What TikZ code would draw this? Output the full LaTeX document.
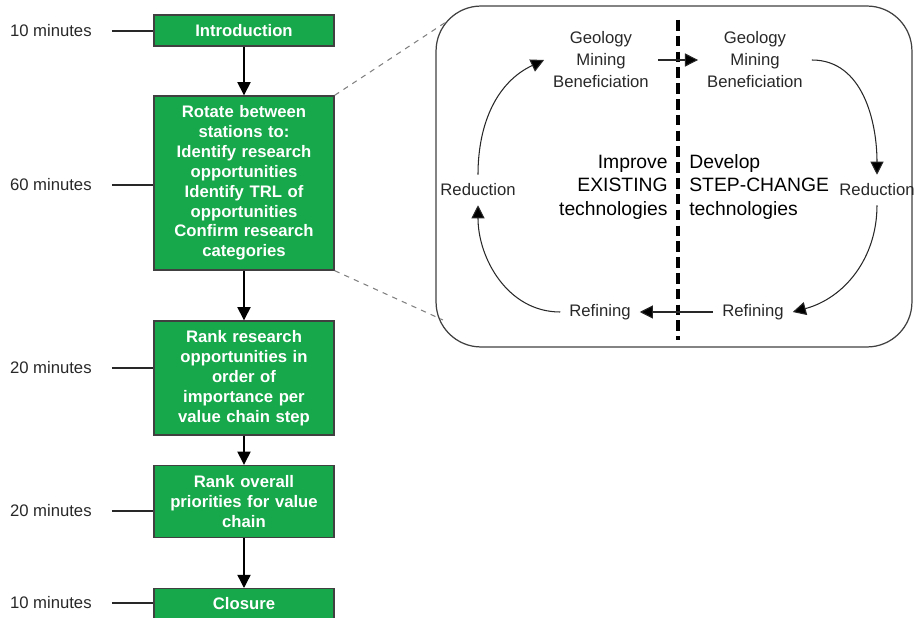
\documentclass[tikz,border=0pt]{standalone}
\usepackage{fontspec}
\setmainfont{Liberation Sans}
\usetikzlibrary{arrows.meta,positioning}
\definecolor{stepgreen}{RGB}{22,168,74}
\definecolor{edgegray}{RGB}{64,64,64}
\definecolor{inkgray}{RGB}{40,40,40}

\begin{document}
\begin{tikzpicture}[x=0.02cm, y=-0.02cm,
    stepbox/.style={draw=edgegray, fill=stepgreen, line width=0.8pt, text=white,
      font=\fontsize{9.5}{11.3}\selectfont\bfseries, align=center,
      text width=3.5cm, minimum width=3.6cm, inner sep=0pt},
    tlabel/.style={anchor=east, inner sep=0pt, text=inkgray, font=\fontsize{9.5}{11}\selectfont},
    tline/.style={draw=inkgray, line width=0.6pt, shorten <=0.4cm},
    flow/.style={draw=black, line width=0.8pt, -{Triangle[width=7.5pt,length=7.5pt]}},
    cyc/.style={inner sep=5pt, text=inkgray, font=\fontsize{9.5}{12.5}\selectfont, align=center},
    bigtext/.style={inner sep=0pt, font=\fontsize{11}{13.3}\selectfont},
    cycarrow/.style={draw=inkgray, line width=0.6pt, -{Triangle[width=7.5pt,length=7.5pt,fill=black]}},
    zoomline/.style={draw=gray, line width=0.6pt, dashed},
    divider/.style={draw=black, line width=2pt, dash pattern=on 6pt off 3pt},
  ]
  \useasboundingbox (0,0) rectangle (914,618);

  % workshop steps
  \node[stepbox, minimum height=0.62cm] (intro) at (244,30.5) {Introduction};
  \node[stepbox, minimum height=3.48cm] (rot) at (244,183)
    {Rotate between\\stations to:\\Identify research\\opportunities\\Identify TRL of\\opportunities\\Confirm research\\categories};
  \node[stepbox, minimum height=2.28cm] (rank1) at (244,378)
    {Rank research\\opportunities in\\order of\\importance per\\value chain step};
  \node[stepbox, minimum height=1.44cm] (rank2) at (244,501.5)
    {Rank overall\\priorities for value\\chain};
  \node[stepbox, minimum height=0.8cm, text depth=0.2cm, anchor=north] (close) at (244,588) {Closure};

  \draw[flow] (intro) -- (rot);
  \draw[flow] (rot) -- (rank1);
  \draw[flow] (rank1) -- (rank2);
  \draw[flow] (rank2) -- (close);

  % durations
  \node[tlabel] (t1) at (92,31) {10 minutes};
  \node[tlabel] (t2) at (92,185) {60 minutes};
  \node[tlabel] (t3) at (92,368) {20 minutes};
  \node[tlabel] (t4) at (92,511) {20 minutes};
  \node[tlabel] (t5) at (92,603) {10 minutes};
  \draw[tline] (t1.east) -- (t1.east -| intro.west);
  \draw[tline] (t2.east) -- (t2.east -| rot.west);
  \draw[tline] (t3.east) -- (t3.east -| rank1.west);
  \draw[tline] (t4.east) -- (t4.east -| rank2.west);
  \draw[tline] (t5.east) -- (t5.east -| close.west);

  % value chain panel
  \node[draw=edgegray, line width=0.7pt, rounded corners=0.9cm, minimum width=9.52cm,
    minimum height=6.82cm, inner sep=0pt] (panel) at (674,176.5) {};
  \coordinate (zt) at (446,22);
  \coordinate (zb) at (443,320);
  \draw[zoomline] (rot.north east) -- (zt);
  \draw[zoomline] (rot.south east) -- (zb);
  \draw[divider] (678,20) -- (678,340);

  \node[cyc] (valL) at (601,60) {Geology\\Mining\\Beneficiation};
  \node[cyc] (valR) at (755,60) {Geology\\Mining\\Beneficiation};
  \node[cyc] (redL) at (478,190) {Reduction};
  \node[cyc] (redR) at (877,190) {Reduction};
  \node[cyc] (refL) at (600,312) {Refining};
  \node[cyc] (refR) at (753,312) {Refining};
  \node[bigtext, anchor=east, align=right] (oldtech) at (668,187) {Improve\\EXISTING\\technologies};
  \node[bigtext, anchor=west, align=left] (newtech) at (689,187) {Develop\\STEP-CHANGE\\technologies};

  \draw[cycarrow] (valL.east) -- (valR.west);
  \draw[cycarrow] (refR.west) -- (refL.east);
  \draw[cycarrow] (redL.north) to[out=90, in=205] (valL.west);
  \draw[cycarrow] (refL.west) to[out=180, in=-90] (redL.south);
  \draw[cycarrow] (valR.east) to[out=0, in=90] (redR.north);
  \draw[cycarrow] (redR.south) to[out=-90, in=15] (refR.east);
\end{tikzpicture}
\end{document}
